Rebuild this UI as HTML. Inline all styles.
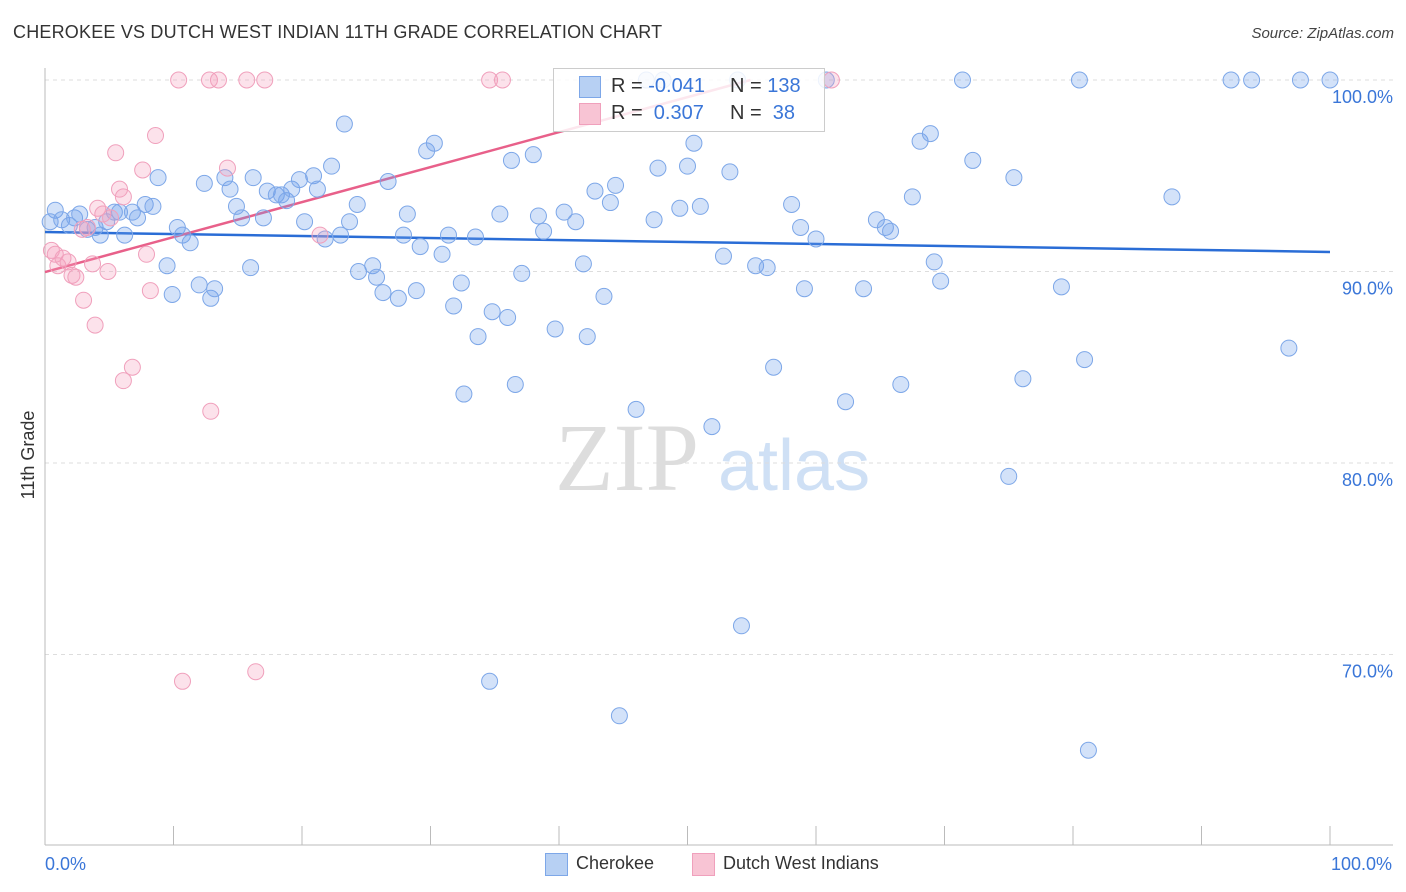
<!DOCTYPE html>
<html><head><meta charset="utf-8">
<style>
body{margin:0;background:#fff;font-family:"Liberation Sans",sans-serif;}
#wrap{position:relative;width:1406px;height:892px;overflow:hidden;}
.t{position:absolute;white-space:nowrap;}
</style></head>
<body>
<div id="wrap">
<div class="t" style="left:13px;top:22px;font-size:18px;color:#333;letter-spacing:0.2px">CHEROKEE VS DUTCH WEST INDIAN 11TH GRADE CORRELATION CHART</div>
<div class="t" style="right:12px;top:25px;font-size:15px;color:#444;font-style:italic">Source: ZipAtlas.com</div>
<svg id="svg" width="1406" height="892" style="position:absolute;left:0;top:0">
<text x="555" y="490" font-size="96" fill="#ddd" font-family="Liberation Serif">ZIP</text>
<text x="718" y="490" font-size="72" fill="#cfe0f5" font-family="Liberation Sans">atlas</text>
<g id="grid"></g><g id="axes"></g><g id="lines"></g><g id="pts"></g>
<text transform="translate(34,455) rotate(-90)" text-anchor="middle" font-size="18" fill="#333">11th Grade</text>
</svg>
<div style="position:absolute;left:553px;top:68px;width:270px;height:62px;border:1px solid #ccc;background:rgba(255,255,255,0.85)">
 <div style="position:absolute;left:25px;top:7px;width:20px;height:20px;background:#b7d0f3;border:1px solid #7da7e8"></div>
 <div class="t" style="left:57px;top:6px;font-size:20px;color:#333">R = <span style="color:#3a76d8">-0.041</span></div>
 <div class="t" style="left:176px;top:6px;font-size:20px;color:#333">N = <span style="color:#3a76d8">138</span></div>
 <div style="position:absolute;left:25px;top:34px;width:20px;height:20px;background:#f8c4d4;border:1px solid #f0a0bc"></div>
 <div class="t" style="left:57px;top:33px;font-size:20px;color:#333">R = <span style="color:#3a76d8">&nbsp;0.307</span></div>
 <div class="t" style="left:176px;top:33px;font-size:20px;color:#333">N = <span style="color:#3a76d8">&nbsp;38</span></div>
</div>
<div style="position:absolute;left:545px;top:853px;">
 <div style="position:absolute;left:0;top:0;width:21px;height:21px;background:#b7d0f3;border:1px solid #7da7e8"></div>
 <div class="t" style="left:31px;top:0;font-size:18px;color:#333">Cherokee</div></div>
<div style="position:absolute;left:692px;top:853px;">
 <div style="position:absolute;left:0;top:0;width:21px;height:21px;background:#f8c4d4;border:1px solid #f0a0bc"></div>
 <div class="t" style="left:31px;top:0;font-size:18px;color:#333">Dutch West Indians</div></div>
</div>
<script>
const yTicks=[100,90,80,70];
const yTickLabels=["100.0%","90.0%","80.0%","70.0%"];
const xTickLabels=["0.0%","100.0%"];
const blueX=[0.8,0.4,1.3,1.9,2.3,2.7,3.3,3.9,4.3,4.8,5.4,5.8,6.2,6.8,7.2,7.8,8.4,8.8,9.5,9.9,10.3,10.7,11.3,12.0,12.4,12.9,13.2,14.0,14.4,14.9,15.3,16.0,16.2,17.0,17.3,18.0,18.4,18.8,19.2,19.8,20.2,20.9,21.2,21.8,22.3,23.0,23.3,23.7,24.3,24.4,25.5,25.8,26.3,26.7,27.5,27.9,28.2,28.9,29.2,29.7,30.3,30.9,31.4,31.8,32.4,32.6,33.5,33.7,34.8,35.4,36.0,36.3,36.6,37.1,38.0,38.4,38.8,39.7,40.4,41.3,41.9,42.2,42.8,43.5,44.0,44.4,46.0,46.8,47.4,47.7,48.1,49.4,50.0,50.5,51.0,51.9,52.8,53.3,53.9,54.2,55.3,56.2,56.7,58.1,58.8,59.1,60.0,60.8,62.3,63.7,64.7,65.4,65.8,66.6,67.5,68.1,68.9,69.2,69.7,71.4,72.2,75.0,75.4,76.1,79.1,80.5,80.9,81.2,87.7,92.3,93.9,96.8,97.7,100,34.6,44.7];
const blueY=[93.2,92.6,92.7,92.4,92.8,93.0,92.2,92.3,91.9,92.6,93.1,93.1,91.9,93.1,92.8,93.5,93.4,94.9,90.3,88.8,92.3,91.9,91.5,89.3,94.6,88.6,89.1,94.9,94.3,93.4,92.8,90.2,94.9,92.8,94.2,94.0,94.0,93.7,94.3,94.8,92.6,95.0,94.3,91.7,95.5,91.9,97.7,92.6,93.5,90.0,90.3,89.7,88.9,94.7,88.6,91.9,93.0,89.0,91.3,96.3,96.7,90.9,91.9,88.2,89.4,83.6,91.8,86.6,87.9,93.0,87.6,95.8,84.1,89.9,96.1,92.9,92.1,87.0,93.1,92.6,90.4,86.6,94.2,88.7,93.6,94.5,82.8,100,92.7,95.4,100,93.3,95.5,96.7,93.4,81.9,90.8,95.2,100,71.5,90.3,90.2,85.0,93.5,92.3,89.1,91.7,100,83.2,89.1,92.7,92.3,92.1,84.1,93.9,96.8,97.2,90.5,89.5,100,95.8,79.3,94.9,84.4,89.2,100,85.4,65.0,93.9,100,100,86.0,100,100,68.6,66.8];
const pinkX=[0.5,0.8,1.0,1.4,1.8,2.1,2.4,2.9,3.0,3.3,3.7,3.9,4.1,4.5,4.9,5.1,5.5,5.8,6.1,6.1,6.8,7.6,7.9,8.2,8.6,10.4,10.7,12.8,12.9,13.5,14.2,15.7,16.4,17.1,21.4,34.6,35.6,61.2];
const pinkY=[91.1,90.9,90.3,90.7,90.5,89.8,89.7,92.2,88.5,92.3,90.4,87.2,93.3,93.0,90.0,92.8,96.2,94.3,93.9,84.3,85.0,95.3,90.9,89.0,97.1,100,68.6,100,82.7,100,95.4,100,69.1,100,91.9,100,100,100];
const blueTrend=[0,92.06,100,91.02];
const pinkTrend=[0,89.97,54.9,100];
const X0=45,X1=1330,Y0=845;
const sx=v=>X0+(X1-X0)*v/100;
const sy=v=>80+(100-v)*19.15;
const NS="http://www.w3.org/2000/svg";
function mk(tag,attrs,parent){const e=document.createElementNS(NS,tag);for(const k in attrs)e.setAttribute(k,attrs[k]);document.getElementById(parent).appendChild(e);return e;}
yTicks.forEach((t,i)=>{
 const g=mk('line',{x1:X0,x2:1393,y1:sy(t),y2:sy(t),stroke:'#ddd','stroke-dasharray':'4,4'},'grid');
 
 
 const l=mk('text',{x:1393,y:sy(t)+23,'text-anchor':'end','font-size':18,fill:'#3a76d8'},'grid');
 l.textContent=yTickLabels[i];
 
 
});
mk('line',{x1:X0,x2:X0,y1:68,y2:Y0,stroke:'#bbb'},'axes');
mk('line',{x1:X0,x2:1393,y1:Y0,y2:Y0,stroke:'#bbb'},'axes');
for(let i=0;i<=10;i++){
 const tk=mk('line',{x1:sx(i*10),x2:sx(i*10),y1:826,y2:Y0,stroke:'#bbb'},'axes');
 
 
}
[[0,'start'],[100,'end']].forEach((p,i)=>{
 const l=mk('text',{x:sx(p[0])+(i?62:0),y:870,'text-anchor':p[1],'font-size':18,fill:'#3a76d8'},'axes');
 l.textContent=xTickLabels[i];
 
 
});
blueX.forEach((x,i)=>{
 const c=mk('circle',{cx:sx(x),cy:sy(blueY[i]),r:8,fill:'rgba(110,160,235,0.3)',stroke:'#7da7e8','stroke-width':1},'pts');
 
 
});
pinkX.forEach((x,i)=>{
 const c=mk('circle',{cx:sx(x),cy:sy(pinkY[i]),r:8,fill:'rgba(245,160,190,0.3)',stroke:'#f0a0bc','stroke-width':1},'pts');
 
 
});
const bl=mk('line',{x1:sx(blueTrend[0]),y1:sy(blueTrend[1]),x2:sx(blueTrend[2]),y2:sy(blueTrend[3]),stroke:'#2a6dd6','stroke-width':2.5},'lines');


const pl=mk('line',{x1:sx(pinkTrend[0]),y1:sy(pinkTrend[1]),x2:sx(pinkTrend[2]),y2:sy(pinkTrend[3]),stroke:'#e8608a','stroke-width':2.5},'lines');


</script>
</body></html>
